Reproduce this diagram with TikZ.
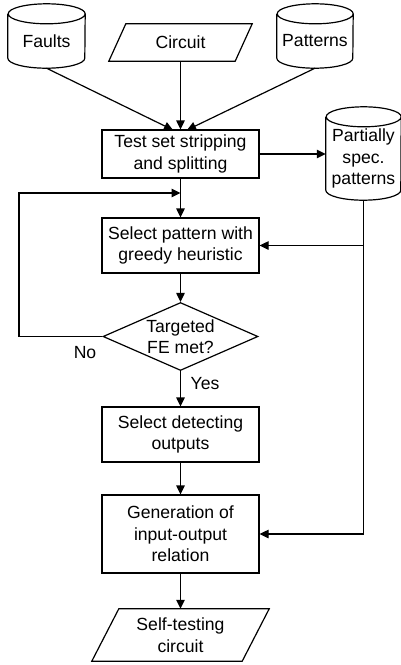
\documentclass[tikz,border=0pt]{standalone}
\usepackage{fontspec}
\setmainfont{Liberation Sans}
\usetikzlibrary{shapes.geometric,arrows.meta,calc}
\tikzset{
  every node/.style={font=\fontsize{17.6pt}{21.5pt}\selectfont, align=center, inner sep=0pt},
  procbox/.style={draw, line width=1.2pt, minimum width=157pt},
  cylbody/.style={minimum width=#1, minimum height=54pt},
  iobox/.style={minimum height=#1},
  decbox/.style={draw, diamond, line width=1.2pt, aspect=2.3, inner sep=-6pt, minimum width=155pt, minimum height=68pt},
  arr/.style={line width=1.2pt, -{Triangle[length=9pt,width=8.5pt]}},
  ln/.style={line width=1.2pt},
  lbl/.style={}
}
\newcommand\drawcyl[2]{% node, x radius
  \draw[ln] (#1.north west) -- ([yshift=10pt]#1.south west)
    arc[start angle=180,end angle=360,x radius=#2,y radius=10pt]
    -- (#1.north east)
    arc[start angle=0,end angle=180,x radius=#2,y radius=10pt]
    arc[start angle=180,end angle=360,x radius=#2,y radius=10pt];}
\newcommand\drawpar[2]{% node, offset
  \draw[ln] ([xshift=#2]#1.north west) -- (#1.north east)
    -- ([xshift=-#2]#1.south east) -- (#1.south west) -- cycle;}
\begin{document}
\begin{tikzpicture}[x=1pt,y=-1pt]
\useasboundingbox (0,0) rectangle (401,665);
% inputs
\node[cylbody=77pt] (faults) at (46.5,41) {Faults};
\drawcyl{faults}{38.5pt}
\node[cylbody=76pt] (patt) at (315,41) {Patterns};
\drawcyl{patt}{38pt}
\node[minimum width=143pt, minimum height=37pt] (circ) at (180.5,42.5) {Circuit};
\drawpar{circ}{17pt}
% process
\node[procbox, minimum height=48pt] (test) at (180.5,154) {Test set stripping\\and splitting};
\node[cylbody=75pt, minimum height=83pt] (part) at (363.5,158.5) {Partially\\spec.\\patterns};
\drawcyl{part}{37.5pt}
\node[procbox, minimum height=55pt] (sel) at (180.5,245.5) {Select pattern with\\greedy heuristic};
\node[decbox] (dec) at (180.5,336.5) {Targeted\\FE met?};
\node[procbox, minimum height=55pt] (det) at (180.5,434.5) {Select detecting\\outputs};
\node[procbox, minimum height=78pt] (gen) at (180.5,534) {Generation of\\input-output\\relation};
\node[minimum width=177pt, minimum height=52pt] (self) at (180.5,635) {Self-testing\\circuit};
\drawpar{self}{27pt}
% connectors
\coordinate (tinL) at (173,130);
\coordinate (tinR) at (187,130);
\draw[arr] (faults.south) -- (tinL);
\draw[arr] (patt.south) -- (tinR);
\draw[arr] (circ.south) -- (circ.south |- test.north);
\draw[arr] (test.east) -- (test.east -| part.west);
\draw[arr] (test.south) -- (sel.north);
\draw[arr] (sel.south) -- (dec.north);
\draw[arr] (dec.south) -- (det.north);
\draw[arr] (det.south) -- (gen.north);
\draw[arr] (gen.south) -- (self.north);
\coordinate (lc) at (19,193);
\coordinate (loopin) at (180.5,193);
\draw[arr] (dec.west) -| (lc) -- (loopin);
\draw[arr] (part.south) |- (gen.east);
\draw[arr] (part.south |- sel.east) -- (sel.east);
\node[lbl] (no) at (85,353) {No};
\node[lbl] (yes) at (205,384) {Yes};
\end{tikzpicture}
\end{document}
